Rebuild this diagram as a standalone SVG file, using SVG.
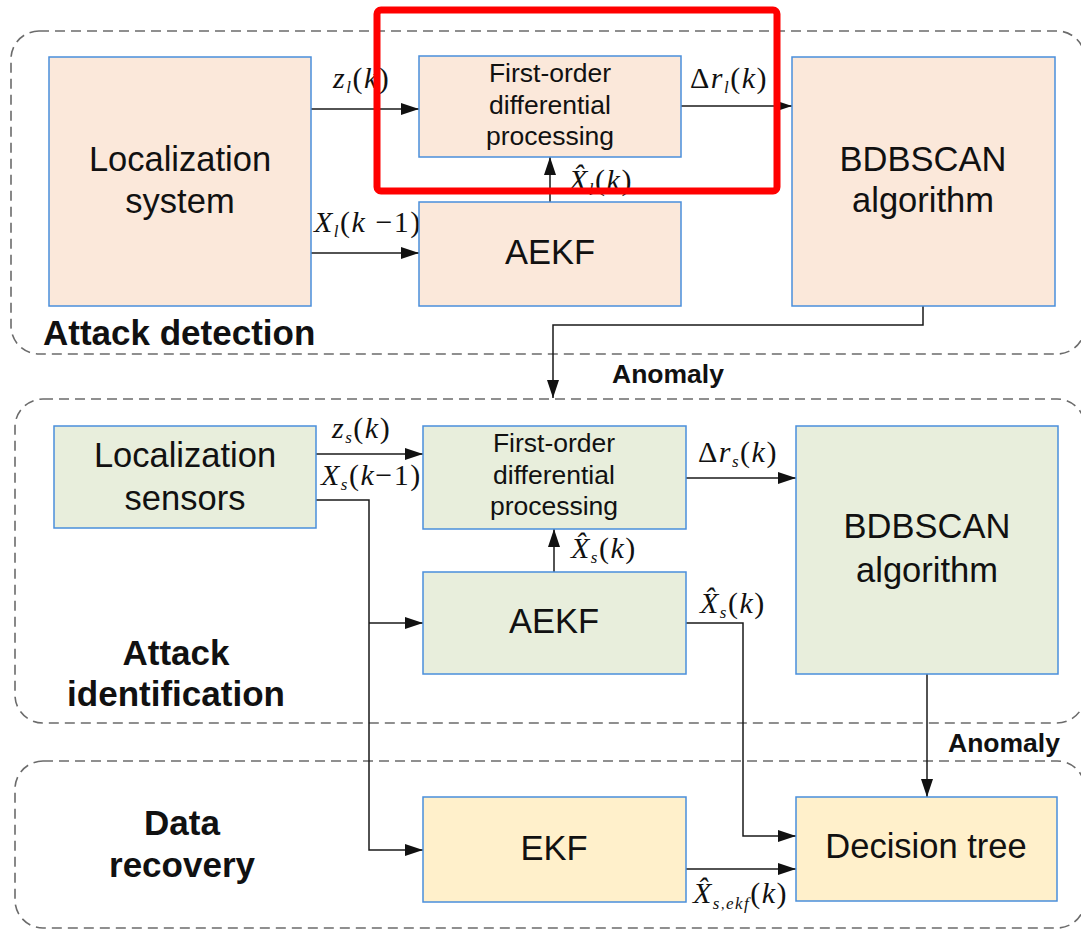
<svg xmlns="http://www.w3.org/2000/svg" width="1081" height="931" viewBox="0 0 1081 931">
<style>
.region{fill:none;stroke:#6b6b6b;stroke-width:1.6;stroke-dasharray:10 6}
.box{stroke:#4a8fdb;stroke-width:1.5}
.peach{fill:#fbe8da}
.green{fill:#e8eedc}
.yellow{fill:#fff0cb}
.t{font-family:"Liberation Sans",Arial,sans-serif;font-size:34.5px;fill:#111;text-anchor:middle}
.ts{font-family:"Liberation Sans",Arial,sans-serif;font-size:26.5px;fill:#111;text-anchor:middle}
.rl{font-family:"Liberation Sans",Arial,sans-serif;font-size:35px;font-weight:bold;fill:#111}
.an{font-family:"Liberation Sans",Arial,sans-serif;font-size:26.5px;font-weight:bold;fill:#111}
.m{font-family:"Liberation Serif","Times New Roman",serif;font-size:30px;fill:#111;letter-spacing:1.5px}
.i{font-style:italic}
.sub{font-size:17px;font-style:italic}
.c{fill:none;stroke:#1a1a1a;stroke-width:1.5}
</style>
<defs>
<marker id="ah" viewBox="0 0 18 12" refX="18" refY="6" markerWidth="18" markerHeight="12" markerUnits="userSpaceOnUse" orient="auto">
<path d="M0,0 L18,6 L0,12 z" fill="#111"/>
</marker>
</defs>

<g id="regions">
<rect class="region" x="11" y="31" width="1074" height="323" rx="28"/>
<rect class="region" x="15" y="399" width="1070" height="324" rx="28"/>
<rect class="region" x="15" y="761" width="1070" height="167" rx="28"/>
<text class="rl" x="43" y="345">Attack detection</text>
<text class="rl" x="176" y="665" text-anchor="middle">Attack</text>
<text class="rl" x="176" y="706" text-anchor="middle">identification</text>
<text class="rl" x="182" y="835" text-anchor="middle">Data</text>
<text class="rl" x="182" y="877" text-anchor="middle">recovery</text>
</g>

<g id="connectors">
<line class="c" x1="311" y1="109" x2="419" y2="109" marker-end="url(#ah)"/>
<line class="c" x1="311" y1="253" x2="419" y2="253" marker-end="url(#ah)"/>
<line class="c" x1="550" y1="202" x2="550" y2="157" marker-end="url(#ah)"/>
<line class="c" x1="681" y1="106" x2="792" y2="106" marker-end="url(#ah)"/>
<polyline class="c" points="923,306 923,325 553,325 553,398" marker-end="url(#ah)"/>
<line class="c" x1="316" y1="454" x2="423" y2="454" marker-end="url(#ah)"/>
<polyline class="c" points="316,500 369,500 369,850 423,850" marker-end="url(#ah)"/>
<line class="c" x1="369" y1="623" x2="423" y2="623" marker-end="url(#ah)"/>
<line class="c" x1="554" y1="572" x2="554" y2="529" marker-end="url(#ah)"/>
<line class="c" x1="686" y1="478" x2="796" y2="478" marker-end="url(#ah)"/>
<polyline class="c" points="686,623 743,623 743,836 796,836" marker-end="url(#ah)"/>
<line class="c" x1="686" y1="869" x2="796" y2="869" marker-end="url(#ah)"/>
<line class="c" x1="927" y1="674" x2="927" y2="797" marker-end="url(#ah)"/>

<text class="m" x="333" y="88"><tspan class="i">z</tspan><tspan class="sub" dy="5">l</tspan><tspan dy="-5">(</tspan><tspan class="i">k</tspan>)</text>
<text class="m" x="314" y="232" font-size="27" letter-spacing="1"><tspan class="i">X</tspan><tspan class="sub" dy="5">l</tspan><tspan dy="-5">(</tspan><tspan class="i">k</tspan> −1)</text>
<text class="m" x="690" y="88">Δ<tspan class="i">r</tspan><tspan class="sub" dy="5">l</tspan><tspan dy="-5">(</tspan><tspan class="i">k</tspan>)</text>
<text class="m" x="569" y="190"><tspan class="i">X̂</tspan><tspan class="sub" dy="5">l</tspan><tspan dy="-5">(</tspan><tspan class="i">k</tspan>)</text>
<text class="an" x="612" y="383">Anomaly</text>

<text class="m" x="332" y="438"><tspan class="i">z</tspan><tspan class="sub" dy="5">s</tspan><tspan dy="-5">(</tspan><tspan class="i">k</tspan>)</text>
<text class="m" x="321" y="485" font-size="25" letter-spacing="0.8"><tspan class="i">X</tspan><tspan class="sub" dy="5" font-size="15">s</tspan><tspan dy="-5">(</tspan><tspan class="i">k</tspan>−1)</text>
<text class="m" x="698" y="462">Δ<tspan class="i">r</tspan><tspan class="sub" dy="5">s</tspan><tspan dy="-5">(</tspan><tspan class="i">k</tspan>)</text>
<text class="m" x="571" y="558"><tspan class="i">X̂</tspan><tspan class="sub" dy="5">s</tspan><tspan dy="-5">(</tspan><tspan class="i">k</tspan>)</text>
<text class="m" x="700" y="613"><tspan class="i">X̂</tspan><tspan class="sub" dy="5">s</tspan><tspan dy="-5">(</tspan><tspan class="i">k</tspan>)</text>
<text class="m" x="693" y="903"><tspan class="i">X̂</tspan><tspan class="sub" dy="6" font-size="14">s</tspan><tspan font-size="14">,</tspan><tspan class="sub" font-size="14">ekf</tspan><tspan dy="-6">(</tspan><tspan class="i">k</tspan>)</text>
<text class="an" x="948" y="752">Anomaly</text>
</g>

<g id="loc-system">
<rect class="box peach" x="49" y="57" width="262" height="249"/>
<text class="t" x="180" y="171">Localization</text>
<text class="t" x="180" y="213">system</text>
</g>
<g id="fod-top">
<rect class="box peach" x="419" y="56" width="262" height="101"/>
<text class="ts" x="550" y="82">First-order</text>
<text class="ts" x="550" y="114">differential</text>
<text class="ts" x="550" y="145">processing</text>
</g>
<g id="aekf-top">
<rect class="box peach" x="419" y="202" width="262" height="104"/>
<text class="t" x="550" y="264">AEKF</text>
</g>
<g id="bdbscan-top">
<rect class="box peach" x="792" y="57" width="263" height="249"/>
<text class="t" x="923" y="171">BDBSCAN</text>
<text class="t" x="923" y="212">algorithm</text>
</g>

<g id="loc-sensors">
<rect class="box green" x="54" y="426" width="262" height="102"/>
<text class="t" x="185" y="467">Localization</text>
<text class="t" x="185" y="510">sensors</text>
</g>
<g id="fod-mid">
<rect class="box green" x="423" y="426" width="263" height="103"/>
<text class="ts" x="554" y="452">First-order</text>
<text class="ts" x="554" y="484">differential</text>
<text class="ts" x="554" y="515">processing</text>
</g>
<g id="aekf-mid">
<rect class="box green" x="423" y="572" width="263" height="102"/>
<text class="t" x="554" y="633">AEKF</text>
</g>
<g id="bdbscan-mid">
<rect class="box green" x="796" y="426" width="262" height="248"/>
<text class="t" x="927" y="538">BDBSCAN</text>
<text class="t" x="927" y="582">algorithm</text>
</g>

<g id="ekf">
<rect class="box yellow" x="423" y="797" width="263" height="105"/>
<text class="t" x="554" y="860">EKF</text>
</g>
<g id="decision-tree">
<rect class="box yellow" x="796" y="797" width="261" height="104"/>
<text class="t" x="926" y="858">Decision tree</text>
</g>

<g id="highlight">
<rect x="377" y="10" width="400" height="181" rx="4" fill="none" stroke="#ff0000" stroke-width="7"/>
</g>
</svg>
